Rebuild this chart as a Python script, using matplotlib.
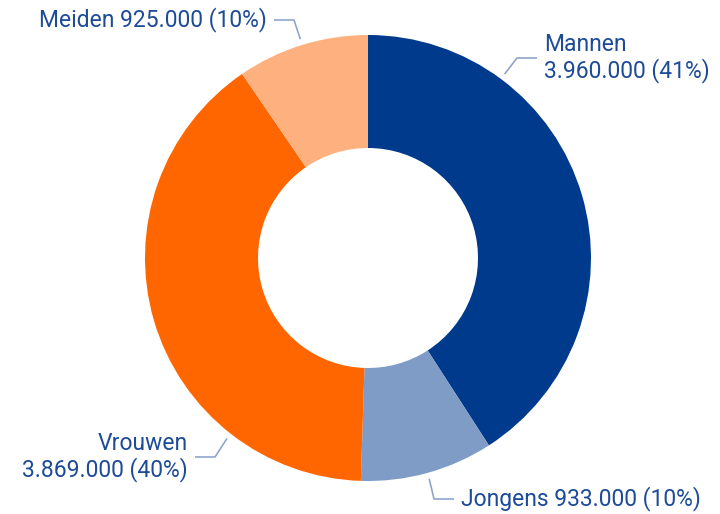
import numpy as np
import matplotlib.pyplot as plt

plt.rcParams['font.family'] = ['Roboto', 'DejaVu Sans']

# data
labels = ['Mannen', 'Jongens', 'Vrouwen', 'Meiden']
values = [3960000, 933000, 3869000, 925000]
colors = ['#003a8c', '#7f9cc6', '#ff6600', '#ffb07f']

# label placement (pixel coords, y from top), angle where connector starts
label_angle = [53.4, None, 232, None]
label_pos = [(544, 58, 'left'), (461, 499, 'left'), (188, 457, 'right'), (267, 20, 'right')]
two_lines = [True, False, True, False]

W, H = 720, 514
cx, cy, R, r_in = 368, 258, 223, 110
text_col = '#1d4b98'
line_col = '#8ea6cc'


def fmt(v):
    return '{:,}'.format(v).replace(',', '.')


fig = plt.figure(figsize=(7.2, 5.14), dpi=100)
ax = fig.add_axes([0, 0, 1, 1])

wedges, _ = ax.pie(values, colors=colors, startangle=90, counterclock=False,
                   center=(cx, H - cy), radius=R,
                   wedgeprops=dict(width=R - r_in, linewidth=0))
ax.set_xlim(0, W)
ax.set_ylim(0, H)
ax.set_aspect('equal')
ax.axis('off')

total = sum(values)
for i, w in enumerate(wedges):
    pct = round(values[i] / total * 100)
    if two_lines[i]:
        txt = '%s\n%s (%d%%)' % (labels[i], fmt(values[i]), pct)
    else:
        txt = '%s %s (%d%%)' % (labels[i], fmt(values[i]), pct)
    ang = label_angle[i]
    if ang is None:
        ang = (w.theta1 + w.theta2) / 2
    a = np.deg2rad(ang)
    x0 = cx + 229 * np.cos(a)
    y0 = cy - 229 * np.sin(a)
    tx, ty, ha = label_pos[i]
    # elbow + horizontal run to text
    if ha == 'left':
        xe = tx - 27
        xs = tx - 7
    else:
        xe = tx + 27
        xs = tx + 7
    ax.plot([x0, xe, xs], [H - y0, H - ty, H - ty], color=line_col, lw=1.2,
            solid_capstyle='butt')
    ax.text(tx, H - ty, txt, ha=ha, va='center', color=text_col, fontsize=16.5,
            linespacing=1.15, multialignment=ha)

fig.savefig('out.png', dpi=100)
